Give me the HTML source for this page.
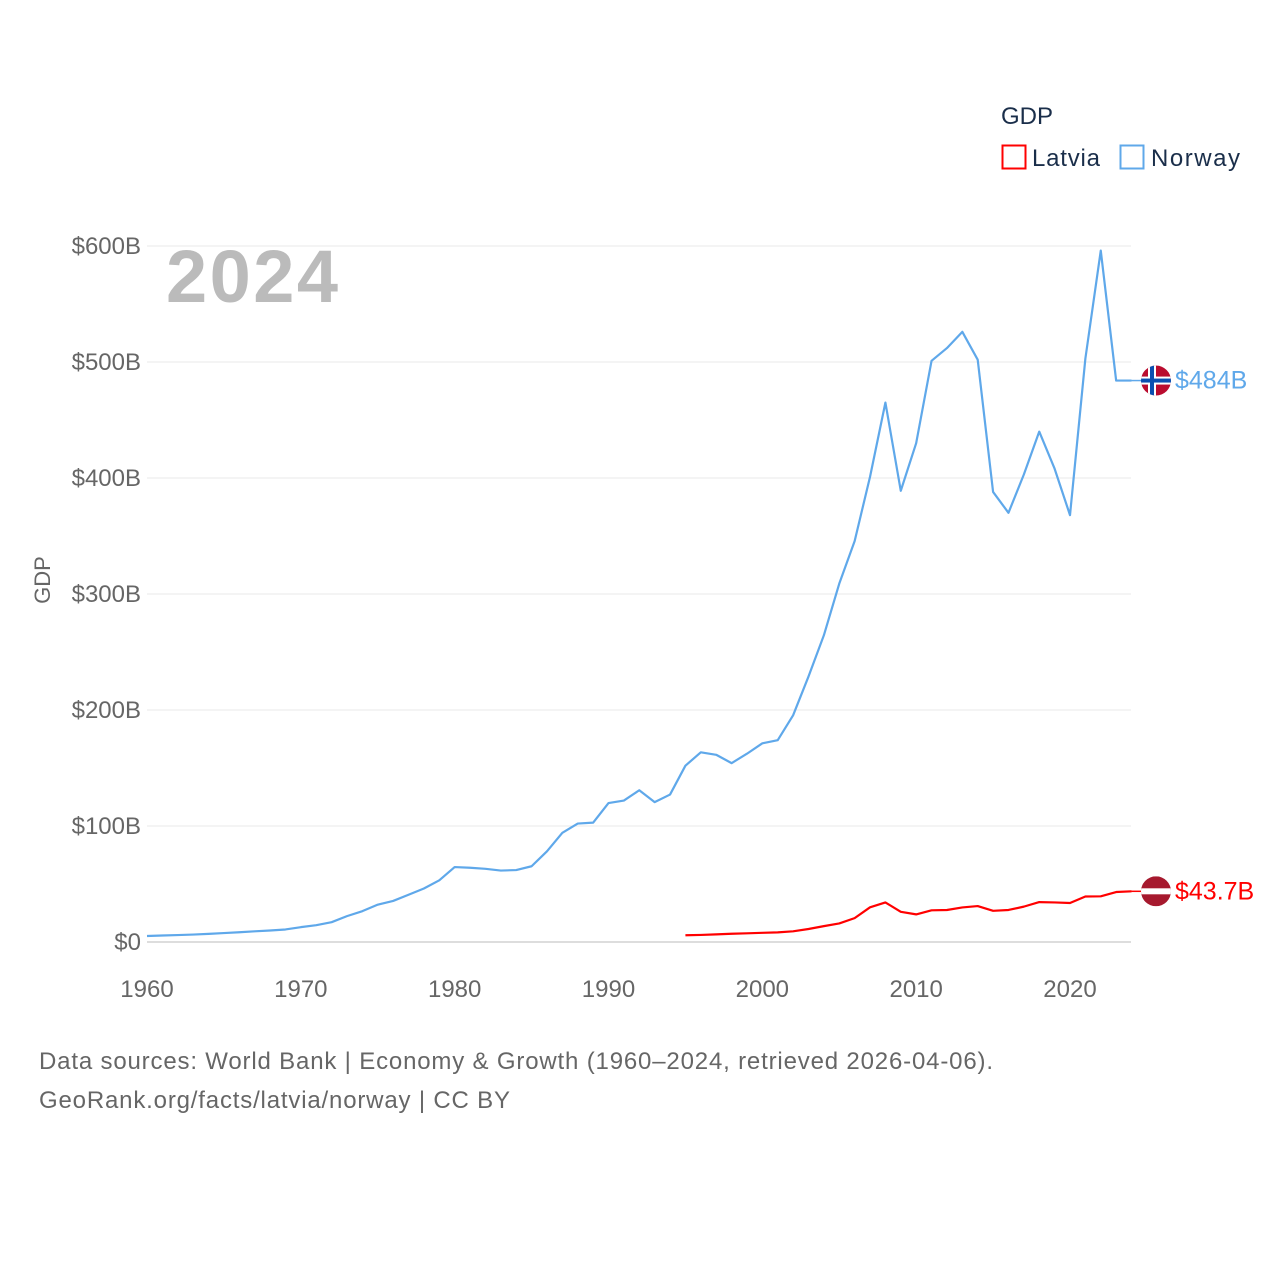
<!DOCTYPE html>
<html><head><meta charset="utf-8">
<style>
body{margin:0;background:#fff;}
svg{display:block;font-family:"Liberation Sans",sans-serif;}
</style></head>
<body>
<svg id="chart" width="1280" height="1280" viewBox="0 0 1280 1280">
<g id="grid"></g>
<g id="yticks"></g>
<g id="xticks"></g>
<text x="50" y="580" transform="rotate(-90 50 580)" text-anchor="middle" font-size="22" fill="#666">GDP</text>
<text x="166" y="302" font-size="74" font-weight="bold" fill="#bbb" textLength="172">2024</text>
<g id="series"></g>
<g>
<text x="1001" y="124" font-size="24" fill="#1a2e4a">GDP</text>
<g>
<rect x="1002.5" y="145.5" width="23" height="23" fill="none" stroke="#ff0000" stroke-width="2"/>
<text x="1032" y="166" font-size="24" fill="#1a2e4a" textLength="68">Latvia</text></g>
<g>
<rect x="1120.5" y="145.5" width="23" height="23" fill="none" stroke="#5fa8ea" stroke-width="2"/>
<text x="1151" y="166" font-size="24" fill="#1a2e4a" textLength="89">Norway</text></g>
</g>
<text x="39" y="1069" font-size="24" fill="#666" textLength="954">Data sources: World Bank | Economy &amp; Growth (1960–2024, retrieved 2026-04-06).</text>
<text x="39" y="1108" font-size="24" fill="#666" textLength="471">GeoRank.org/facts/latvia/norway | CC BY</text>
</svg>
<script>
const years = [];
for (let y = 1960; y <= 2024; y++) years.push(y);
const norway = [5.2,5.6,6.0,6.4,7.0,7.7,8.4,9.2,9.9,10.8,12.8,14.5,17.1,22.3,26.6,32.2,35.4,40.7,46.1,53.2,64.6,64.0,63.1,61.6,62.0,65.3,78.2,94.1,102.1,102.9,119.8,121.9,130.8,120.6,127.1,152.0,163.5,161.4,154.2,162.3,171.3,174.0,195.4,228.8,264.4,308.9,345.6,401,465,389,430,501,512,526,502,388,370,403,440,408,368,503,596,484,484];
const latviaYears = [1995,1996,1997,1998,1999,2000,2001,2002,2003,2004,2005,2006,2007,2008,2009,2010,2011,2012,2013,2014,2015,2016,2017,2018,2019,2020,2021,2022,2023,2024];
const latvia = [5.8,6.1,6.6,7.1,7.5,7.9,8.3,9.2,11.2,13.7,16.0,20.6,29.9,34.1,26.0,23.8,27.3,27.6,29.8,31.0,26.9,27.6,30.5,34.4,34.1,33.6,39.2,39.4,43.1,43.7];
const yTicks = [0,100,200,300,400,500,600];
const yTickLabels = ["$0","$100B","$200B","$300B","$400B","$500B","$600B"];
const xTicks = [1960,1970,1980,1990,2000,2010,2020];
const endLabels = ["$484B","$43.7B"];

const NS="http://www.w3.org/2000/svg";
const xS = y => 147 + (y-1960)*(923/60);
const yS = v => 942 - v*1.16;
function mk(tag, attrs, parent){const e=document.createElementNS(NS,tag);for(const k in attrs)e.setAttribute(k,attrs[k]);parent.appendChild(e);return e;}
const grid=document.getElementById('grid'), yt=document.getElementById('yticks'), xt=document.getElementById('xticks'), ser=document.getElementById('series');
yTicks.forEach((v,i)=>{
  const l=mk('line',{x1:147,x2:1131,y1:yS(v),y2:yS(v),stroke:i==0?'#ddd':'#e8e8e8','stroke-width':i==0?2:1},grid);
  
  
  const t=mk('text',{x:141,y:yS(v)+8,'text-anchor':'end','font-size':24,fill:'#666'},yt);
  t.textContent=yTickLabels[i];
  
  
});
xTicks.forEach(v=>{
  const t=mk('text',{x:xS(v),y:997,'text-anchor':'middle','font-size':24,fill:'#666'},xt);
  t.textContent=v;
  
  
});
function line(xs,vals,color,name){
  const p=mk('polyline',{points:xs.map((y,i)=>xS(y)+','+yS(vals[i])).join(' '),fill:'none',stroke:color,'stroke-width':2.2,'stroke-linejoin':'round'},ser);
  
  
}
line(years,norway,'#5fa8ea','norway-line');
line(latviaYears,latvia,'#ff0000','latvia-line');
function marker(val,color,label,flag,name){
  const y=yS(val), cx=1156;
  const g=mk('g',{},ser);
  
  
  mk('line',{x1:xS(2024),x2:cx-15,y1:y,y2:y,stroke:color,'stroke-width':1.5},g);
  const cid='clip'+name;
  const cp=mk('clipPath',{id:cid},g); mk('circle',{cx:cx,cy:y,r:15},cp);
  const fg=mk('g',{'clip-path':'url(#'+cid+')'},g);
  if(flag==='no'){
    mk('rect',{x:cx-15,y:y-15,width:30,height:30,fill:'#ba0c2f'},fg);
    mk('rect',{x:cx-15,y:y-4,width:30,height:8,fill:'#fff'},fg);
    mk('rect',{x:cx-8,y:y-15,width:8,height:30,fill:'#fff'},fg);
    mk('rect',{x:cx-15,y:y-2,width:30,height:4,fill:'#0b4fb0'},fg);
    mk('rect',{x:cx-6,y:y-15,width:4,height:30,fill:'#0b4fb0'},fg);
  } else {
    mk('rect',{x:cx-15,y:y-15,width:30,height:30,fill:'#a6192e'},fg);
    mk('rect',{x:cx-15,y:y-3,width:30,height:6,fill:'#fff'},fg);
  }
  const t=mk('text',{x:1175,y:y+8,'font-size':25,fill:color},g);
  t.textContent=label;
}
marker(norway[norway.length-1],'#5fa8ea',endLabels[0],'no','norway-end-label');
marker(latvia[latvia.length-1],'#ff0000',endLabels[1],'lv','latvia-end-label');
</script>
</body></html>
